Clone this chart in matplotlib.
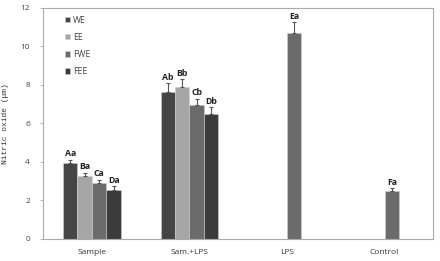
import numpy as np
import matplotlib
matplotlib.use("Agg")
import matplotlib.pyplot as plt

plt.rcParams['font.family'] = ['Open Sans', 'DejaVu Sans']

# data
groups = ['Sample', 'Sam.+LPS', 'LPS', 'Control']
series = ['WE', 'EE', 'FWE', 'FEE']
colors = ['#454545', '#a6a6a6', '#6b6b6b', '#3b3b3b']

we_vals = [3.92, 7.65, np.nan, np.nan]
ee_vals = [3.27, 7.90, np.nan, np.nan]
fwe_vals = [2.89, 6.96, 10.68, 2.47]
fee_vals = [2.56, 6.49, np.nan, np.nan]

we_err = [0.20, 0.44, 0, 0]
ee_err = [0.17, 0.40, 0, 0]
fwe_err = [0.19, 0.31, 0.57, 0.16]
fee_err = [0.16, 0.35, 0, 0]

we_lab = ['Aa', 'Ab', '', '']
ee_lab = ['Ba', 'Bb', '', '']
fwe_lab = ['Ca', 'Cb', 'Ea', 'Fa']
fee_lab = ['Da', 'Db', '', '']

vals = [we_vals, ee_vals, fwe_vals, fee_vals]
errs = [we_err, ee_err, fwe_err, fee_err]
labs = [we_lab, ee_lab, fwe_lab, fee_lab]

fig = plt.figure(figsize=(4.4, 2.61), dpi=100)
ax = fig.add_axes([0.098, 0.085, 0.887, 0.885])

x = np.arange(len(groups))
w = 0.148
for i in range(4):
    pos = x + (i - 1.5) * w
    v = np.array(vals[i], dtype=float)
    ok = ~np.isnan(v)
    ax.bar(pos[ok], v[ok], w, color=colors[i], edgecolor='#d0d0d0', linewidth=0.4,
           label=series[i], zorder=2)
    ax.errorbar(pos[ok], v[ok], yerr=[np.zeros(ok.sum()), np.array(errs[i])[ok]],
                fmt='none', ecolor='#555555', elinewidth=0.8, capsize=1.6, capthick=0.8, zorder=3)
    for p, h, e, t in zip(pos[ok], v[ok], np.array(errs[i])[ok], np.array(labs[i])[ok]):
        ax.text(p, h + e + 0.08, t, ha='center', va='bottom', fontsize=6.3,
                fontweight='bold', color='#222222')

ax.set_xlim(-0.5, 3.5)
ax.set_ylim(0, 12)
ax.set_yticks(range(0, 13, 2))
ax.set_xticks(x)
ax.set_xticklabels(groups)
ax.tick_params(axis='x', length=0, labelsize=6, colors='#333333', pad=7)
ax.tick_params(axis='y', length=2.5, width=0.5, labelsize=6, colors='#444444', pad=7)
ax.tick_params(axis='y', color='#999999')
for s in ax.spines.values():
    s.set_color('#aaaaaa')
    s.set_linewidth(0.8)

ax.set_ylabel('Nitric oxide (μm)', family='Liberation Mono', fontsize=5.8,
              color='#333333', labelpad=8)

ax.legend(loc='upper left', bbox_to_anchor=(0.035, 1.0), frameon=False, fontsize=6.2,
          handlelength=0.6, handleheight=0.6, handletextpad=0.4, labelspacing=0.95,
          labelcolor='#444444')

fig.savefig('out.png', dpi=100)
